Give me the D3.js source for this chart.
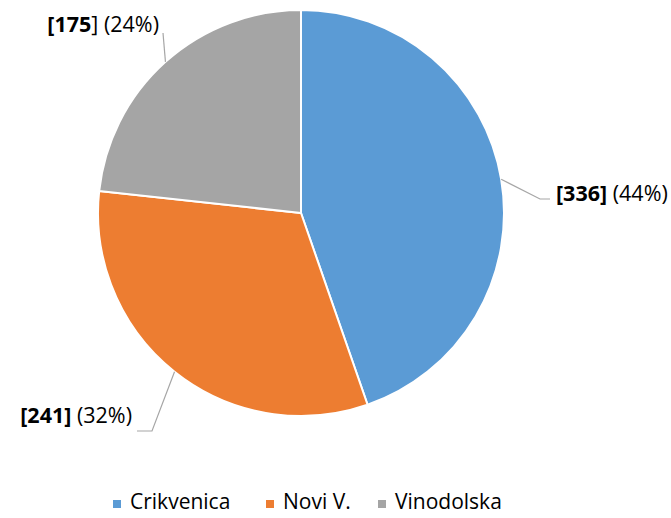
<!DOCTYPE html>
<html><head><meta charset="utf-8">
<script src="https://cdn.jsdelivr.net/npm/d3@7"></script>
<style>body{margin:0;background:#fff}svg{display:block}text{font-family:"Open Sans",Lato,sans-serif;fill:#000}</style>
</head><body>
<svg id="c" width="671" height="518"></svg>
<script>
const categories = ["Crikvenica", "Novi V.", "Vinodolska"];
const values = [336, 241, 175];
const percentLabels = ["44%", "32%", "24%"];
const colors = ["#5B9BD5", "#ED7D31", "#A5A5A5"];

const W = 671, H = 518, cx = 301, cy = 213, R = 203;
const svg = d3.select("#c");
const g = svg.append("g").attr("transform", `translate(${cx},${cy})`);

const pie = d3.pie().sort(null).value(d => d)(values);
const arc = d3.arc().innerRadius(0).outerRadius(R);
g.selectAll("path.s").data(pie).join("path")
  .attr("class","s").attr("d", arc).attr("fill", (d,i)=>colors[i])
  .attr("stroke","#fff").attr("stroke-width",2).attr("stroke-linejoin","round");

// label layout: elbow point and label anchor offsets relative to center
const layout = [
  {elbow:[239,-14], end:[249,-14], tx:255, ty:-12, anchor:"start"},
  {elbow:[-149,218], end:[-164,218], tx:-169, ty:210, anchor:"end"},
  {elbow:[-138,-180], end:[-138,-180], tx:-142, ty:-181, anchor:"end"}
];
const edge = d3.arc().innerRadius(R).outerRadius(R);
pie.forEach((d,i)=>{
  const p0 = edge.centroid(d), L = layout[i];
  g.append("polyline").attr("points",[p0,L.elbow,L.end].map(p=>p.join(",")).join(" "))
    .attr("fill","none").attr("stroke","#A6A6A6").attr("stroke-width",1.2);
  const t = g.append("text").attr("x",L.tx).attr("y",L.ty).attr("text-anchor",L.anchor)
    .style("font-size","21.5px");
  if(i===2){
    t.append("tspan").attr("font-weight","bold").text("[" + values[i]);
    t.append("tspan").text("] (" + percentLabels[i] + ")");
  } else {
    t.append("tspan").attr("font-weight","bold").text("[" + values[i] + "]");
    t.append("tspan").text(" (" + percentLabels[i] + ")");
  }
});

// legend
const legend = svg.append("g");
const lx = [113, 266, 378];
categories.forEach((c,i)=>{
  const lg = legend.append("g").attr("transform",`translate(${lx[i]},509)`);
  lg.append("rect").attr("x",0).attr("y",-9).attr("width",8).attr("height",8).attr("fill",colors[i]);
  lg.append("text").attr("x",17).attr("y",0).style("font-size",  "21px").text(c);
});
</script>
</body></html>
